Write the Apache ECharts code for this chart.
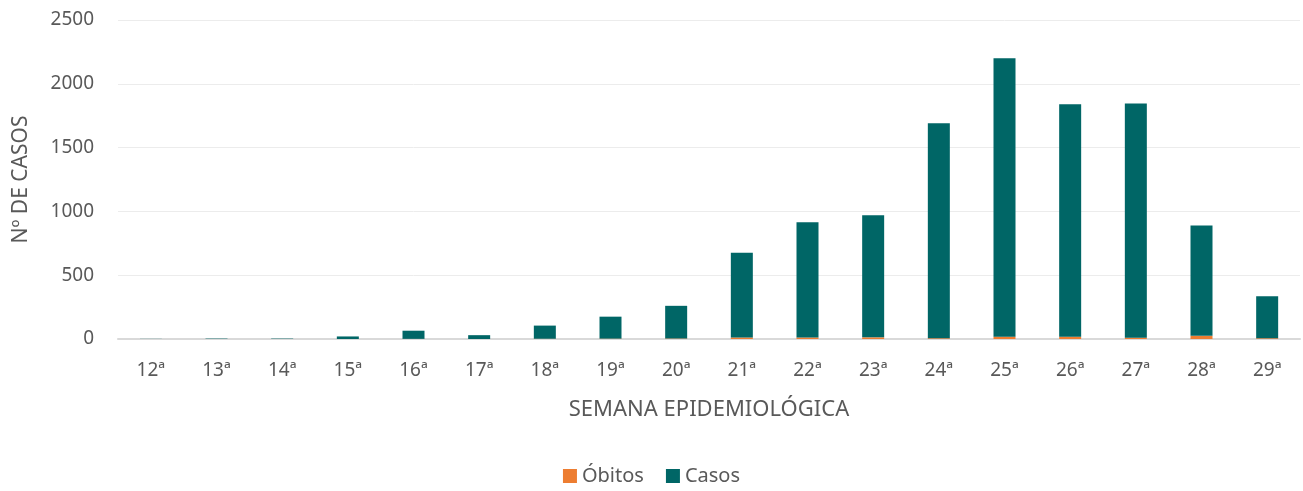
<!DOCTYPE html>
<html>
<head>
<meta charset="utf-8">
<script src="https://cdn.jsdelivr.net/npm/echarts@6/dist/echarts.min.js"></script>
<style>
  html, body { margin: 0; padding: 0; background: #fff; }
  #main { width: 1303px; height: 491px; }
</style>
</head>
<body>
<div id="main"></div>
<script>
// semanas epidemiológicas
var semanas = ['12ª', '13ª', '14ª', '15ª', '16ª', '17ª', '18ª', '19ª', '20ª',
  '21ª', '22ª', '23ª', '24ª', '25ª', '26ª', '27ª', '28ª', '29ª'];
// óbitos por semana (parte de baixo da pilha)
var obitos = [0, 0, 0, 0, 1, 0, 2, 3, 4, 12, 12, 13, 6, 18, 18, 10, 25, 6];
// casos por semana (empilhados sobre os óbitos)
var casos = [1, 3, 3, 20, 64, 30, 103, 172, 256, 663, 903, 957, 1684, 2182, 1822, 1835, 865, 329];

var myChart = echarts.init(document.getElementById('main'));
var fonte = 'Noto Sans';
var cinza = '#595959';

var option = {
  animation: false,
  textStyle: { fontFamily: fonte },
  grid: { left: 118, right: 3, top: 20, bottom: 152 },
  legend: {
    bottom: 0,
    left: 'center',
    itemWidth: 14,
    itemHeight: 14,
    itemGap: 22,
    icon: 'rect',
    textStyle: { color: cinza, fontSize: 20, fontFamily: fonte },
    data: ['Óbitos', 'Casos']
  },
  xAxis: {
    type: 'category',
    data: semanas,
    name: 'SEMANA EPIDEMIOLÓGICA',
    nameLocation: 'middle',
    nameGap: 60,
    nameTextStyle: { color: cinza, fontSize: 22 },
    axisLine: { lineStyle: { color: '#d9d9d9', width: 2 } },
    axisTick: { show: false },
    axisLabel: { color: cinza, fontSize: 19, margin: 22 }
  },
  yAxis: {
    type: 'value',
    min: 0,
    max: 2500,
    interval: 500,
    name: 'Nº DE CASOS',
    nameLocation: 'middle',
    nameGap: 86,
    nameTextStyle: { color: cinza, fontSize: 21 },
    axisLine: { show: false },
    axisTick: { show: false },
    axisLabel: {
      color: cinza, fontSize: 19, margin: 24,
      formatter: function (v) { return String(v); }
    },
    splitLine: { lineStyle: { color: '#ececec', width: 1 } }
  },
  series: [
    {
      name: 'Óbitos',
      type: 'bar',
      stack: 'total',
      data: obitos,
      barWidth: 22,
      itemStyle: { color: '#ed7d31' }
    },
    {
      name: 'Casos',
      type: 'bar',
      stack: 'total',
      data: casos,
      barWidth: 22,
      itemStyle: { color: '#006666' }
    }
  ]
};

myChart.setOption(option);
</script>
</body>
</html>
